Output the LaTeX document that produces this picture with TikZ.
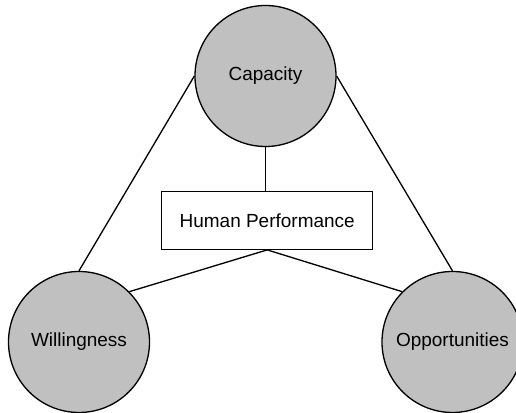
\documentclass[tikz,border=0pt]{standalone}
\usepackage{fontspec}
\setmainfont{Liberation Sans}
\usepackage{tikz}
\usetikzlibrary{shapes}
\definecolor{factorgray}{RGB}{192,192,192}
\tikzstyle{factor} = [circle, draw, fill=factorgray, line width=0.75pt, minimum size=2.82cm, inner sep=0pt]
\tikzstyle{result} = [rectangle, draw, fill=white, line width=0.75pt, minimum width=4.22cm, minimum height=1.15cm]
\tikzstyle{link} = [line width=0.75pt]

\begin{document}
\begin{tikzpicture}[font=\fontsize{10.8}{13}\selectfont]
    \useasboundingbox (0,0) rectangle (10.32,8.26);
    \node [factor] (capacity) at (5.31,6.74) {Capacity};
    \node [factor] (willing) at (1.58,1.42) {Willingness};
    \node [factor] (opport) at (9.05,1.42) {Opportunities};
    \node [result] (perf) at (5.344,3.85) {Human Performance};

    % outer triangle
    \draw [link] (capacity.west) -- (willing.north);
    \draw [link] (capacity.east) -- (opport.north);
    % factors <-> performance
    \draw [link] (capacity.south) -- (capacity.south |- perf.north);
    \draw [link] (perf.south) -- (willing.north east);
    \draw [link] (perf.south) -- (opport.north west);
\end{tikzpicture}
\end{document}
